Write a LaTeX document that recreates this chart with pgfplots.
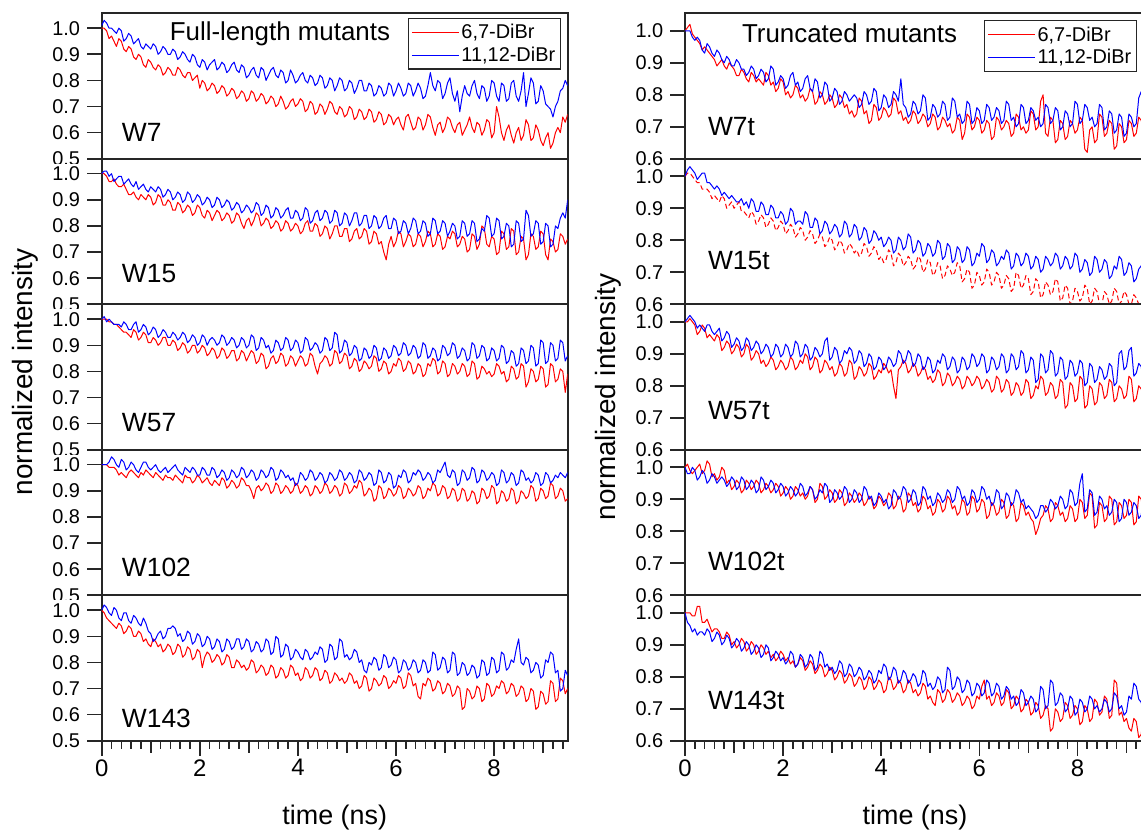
\documentclass[border=0pt]{standalone}
\usepackage{fontspec}
\setmainfont{Liberation Sans}
\usepackage{pgfplots}
\usepackage{pgfplotstable}
\pgfplotsset{compat=1.18}

% ---------------- data (time in ns, r = 6,7-DiBr, b = 11,12-DiBr)
\pgfplotstableread{
t r b
0.0 1.00 1.01
0.05 1.00 1.03
0.1 0.99 1.02
0.15 0.96 1.00
0.2 0.97 1.00
0.25 0.95 0.99
0.3 0.93 0.98
0.35 0.96 1.00
0.4 0.95 0.99
0.45 0.92 0.95
0.5 0.91 0.96
0.55 0.93 0.98
0.6 0.92 0.97
0.65 0.89 0.94
0.7 0.88 0.95
0.75 0.90 0.96
0.8 0.89 0.93
0.85 0.86 0.92
0.9 0.85 0.94
0.95 0.88 0.93
1.0 0.87 0.92
1.05 0.85 0.94
1.1 0.84 0.93
1.15 0.86 0.90
1.2 0.85 0.91
1.25 0.82 0.93
1.3 0.83 0.92
1.35 0.85 0.90
1.4 0.84 0.90
1.45 0.82 0.92
1.5 0.82 0.91
1.55 0.85 0.88
1.6 0.84 0.89
1.65 0.82 0.91
1.7 0.81 0.90
1.75 0.83 0.88
1.8 0.83 0.87
1.85 0.80 0.90
1.9 0.81 0.89
1.95 0.82 0.86
2.0 0.77 0.85
2.05 0.80 0.88
2.1 0.79 0.87
2.15 0.76 0.84
2.2 0.77 0.86
2.25 0.79 0.87
2.3 0.78 0.88
2.35 0.75 0.84
2.4 0.76 0.85
2.45 0.78 0.87
2.5 0.77 0.86
2.55 0.74 0.83
2.6 0.75 0.84
2.65 0.77 0.86
2.7 0.76 0.87
2.75 0.73 0.84
2.8 0.74 0.83
2.85 0.76 0.86
2.9 0.75 0.85
2.95 0.72 0.81
3.0 0.73 0.82
3.05 0.76 0.84
3.1 0.75 0.85
3.15 0.72 0.82
3.2 0.73 0.81
3.25 0.75 0.85
3.3 0.74 0.84
3.35 0.71 0.80
3.4 0.72 0.82
3.45 0.74 0.84
3.5 0.73 0.85
3.55 0.70 0.82
3.6 0.71 0.81
3.65 0.74 0.84
3.7 0.72 0.83
3.75 0.69 0.79
3.8 0.70 0.80
3.85 0.72 0.84
3.9 0.73 0.82
3.95 0.70 0.79
4.0 0.71 0.80
4.05 0.73 0.82
4.1 0.72 0.83
4.15 0.68 0.80
4.2 0.69 0.79
4.25 0.72 0.82
4.3 0.71 0.81
4.35 0.67 0.78
4.4 0.68 0.79
4.45 0.71 0.82
4.5 0.70 0.81
4.55 0.67 0.77
4.6 0.69 0.78
4.65 0.72 0.81
4.7 0.71 0.80
4.75 0.68 0.76
4.8 0.67 0.78
4.85 0.70 0.81
4.9 0.69 0.80
4.95 0.66 0.76
5.0 0.67 0.77
5.05 0.70 0.80
5.1 0.69 0.79
5.15 0.65 0.75
5.2 0.66 0.77
5.25 0.69 0.80
5.3 0.68 0.80
5.35 0.65 0.76
5.4 0.66 0.76
5.45 0.69 0.79
5.5 0.68 0.78
5.55 0.64 0.74
5.6 0.65 0.75
5.65 0.68 0.78
5.7 0.67 0.77
5.75 0.63 0.74
5.8 0.64 0.75
5.85 0.67 0.79
5.9 0.66 0.78
5.95 0.63 0.74
6.0 0.65 0.76
6.05 0.66 0.79
6.1 0.63 0.77
6.15 0.61 0.74
6.2 0.66 0.75
6.25 0.67 0.79
6.3 0.64 0.78
6.35 0.61 0.74
6.4 0.62 0.76
6.45 0.66 0.79
6.5 0.65 0.77
6.55 0.61 0.73
6.6 0.63 0.74
6.65 0.67 0.78
6.7 0.66 0.83
6.75 0.62 0.78
6.8 0.59 0.76
6.85 0.63 0.80
6.9 0.64 0.79
6.95 0.60 0.73
7.0 0.62 0.75
7.05 0.66 0.79
7.1 0.65 0.81
7.15 0.62 0.75
7.2 0.60 0.72
7.25 0.63 0.76
7.3 0.64 0.68
7.35 0.59 0.74
7.4 0.61 0.78
7.45 0.63 0.75
7.5 0.66 0.74
7.55 0.62 0.78
7.6 0.60 0.80
7.65 0.64 0.75
7.7 0.63 0.73
7.75 0.59 0.78
7.8 0.61 0.77
7.85 0.65 0.72
7.9 0.64 0.74
7.95 0.58 0.80
8.0 0.60 0.79
8.05 0.70 0.74
8.1 0.66 0.72
8.15 0.60 0.79
8.2 0.57 0.78
8.25 0.61 0.72
8.3 0.63 0.73
8.35 0.59 0.79
8.4 0.56 0.80
8.45 0.60 0.74
8.5 0.62 0.72
8.55 0.57 0.76
8.6 0.59 0.83
8.65 0.65 0.70
8.7 0.63 0.75
8.75 0.57 0.81
8.8 0.58 0.79
8.85 0.63 0.71
8.9 0.61 0.72
8.95 0.57 0.78
9.0 0.55 0.76
9.05 0.58 0.71
9.1 0.60 0.70
9.15 0.54 0.69
9.2 0.56 0.66
9.25 0.60 0.70
9.3 0.62 0.72
9.35 0.60 0.76
9.4 0.66 0.77
9.45 0.64 0.80
9.5 0.67 0.78
}\tWseven

\pgfplotstableread{
t r b
0.0 1.00 1.00
0.05 1.00 1.01
0.1 0.99 1.01
0.15 0.97 0.99
0.2 0.97 1.00
0.25 0.98 0.97
0.3 0.96 0.98
0.35 0.95 0.99
0.4 0.95 0.99
0.45 0.96 0.96
0.5 0.94 0.97
0.55 0.92 0.98
0.6 0.92 0.96
0.65 0.93 0.95
0.7 0.91 0.97
0.75 0.90 0.94
0.8 0.92 0.95
0.85 0.91 0.96
0.9 0.90 0.94
0.95 0.92 0.93
1.0 0.91 0.95
1.05 0.88 0.94
1.1 0.89 0.93
1.15 0.92 0.95
1.2 0.91 0.94
1.25 0.88 0.91
1.3 0.88 0.92
1.35 0.90 0.94
1.4 0.89 0.93
1.45 0.86 0.90
1.5 0.86 0.91
1.55 0.89 0.93
1.6 0.88 0.92
1.65 0.85 0.89
1.7 0.86 0.90
1.75 0.88 0.93
1.8 0.87 0.92
1.85 0.84 0.89
1.9 0.85 0.90
1.95 0.88 0.92
2.0 0.87 0.91
2.05 0.84 0.88
2.1 0.83 0.89
2.15 0.86 0.91
2.2 0.85 0.90
2.25 0.82 0.87
2.3 0.84 0.88
2.35 0.86 0.91
2.4 0.85 0.90
2.45 0.82 0.87
2.5 0.83 0.88
2.55 0.85 0.90
2.6 0.84 0.89
2.65 0.81 0.86
2.7 0.82 0.87
2.75 0.85 0.89
2.8 0.84 0.88
2.85 0.81 0.85
2.9 0.79 0.86
2.95 0.82 0.88
3.0 0.83 0.87
3.05 0.80 0.85
3.1 0.82 0.86
3.15 0.85 0.89
3.2 0.84 0.88
3.25 0.80 0.84
3.3 0.81 0.85
3.35 0.83 0.88
3.4 0.82 0.87
3.45 0.79 0.83
3.5 0.80 0.84
3.55 0.82 0.87
3.6 0.81 0.86
3.65 0.78 0.83
3.7 0.79 0.84
3.75 0.82 0.86
3.8 0.81 0.87
3.85 0.78 0.83
3.9 0.79 0.83
3.95 0.81 0.86
4.0 0.80 0.85
4.05 0.77 0.82
4.1 0.78 0.83
4.15 0.81 0.87
4.2 0.82 0.86
4.25 0.78 0.81
4.3 0.78 0.82
4.35 0.81 0.85
4.4 0.80 0.86
4.45 0.76 0.82
4.5 0.77 0.83
4.55 0.80 0.86
4.6 0.79 0.85
4.65 0.75 0.81
4.7 0.77 0.82
4.75 0.80 0.86
4.8 0.80 0.85
4.85 0.76 0.80
4.9 0.76 0.81
4.95 0.79 0.85
5.0 0.79 0.84
5.05 0.74 0.80
5.1 0.75 0.82
5.15 0.78 0.85
5.2 0.79 0.85
5.25 0.75 0.80
5.3 0.76 0.81
5.35 0.79 0.84
5.4 0.78 0.84
5.45 0.73 0.79
5.5 0.74 0.80
5.55 0.78 0.84
5.6 0.77 0.83
5.65 0.73 0.79
5.7 0.74 0.80
5.75 0.70 0.83
5.8 0.67 0.84
5.85 0.73 0.79
5.9 0.76 0.79
5.95 0.72 0.83
6.0 0.74 0.82
6.05 0.78 0.77
6.1 0.77 0.78
6.15 0.72 0.82
6.2 0.74 0.81
6.25 0.77 0.77
6.3 0.76 0.79
6.35 0.72 0.83
6.4 0.73 0.82
6.45 0.77 0.77
6.5 0.76 0.78
6.55 0.72 0.82
6.6 0.74 0.81
6.65 0.78 0.76
6.7 0.77 0.77
6.75 0.72 0.83
6.8 0.73 0.82
6.85 0.77 0.77
6.9 0.76 0.78
6.95 0.71 0.82
7.0 0.72 0.81
7.05 0.76 0.76
7.1 0.75 0.78
7.15 0.78 0.81
7.2 0.77 0.80
7.25 0.72 0.75
7.3 0.73 0.76
7.35 0.76 0.82
7.4 0.75 0.81
7.45 0.70 0.76
7.5 0.71 0.77
7.55 0.77 0.82
7.6 0.76 0.81
7.65 0.71 0.74
7.7 0.73 0.75
7.75 0.80 0.79
7.8 0.79 0.78
7.85 0.73 0.84
7.9 0.72 0.83
7.95 0.76 0.76
8.0 0.75 0.77
8.05 0.69 0.83
8.1 0.70 0.82
8.15 0.78 0.75
8.2 0.77 0.76
8.25 0.71 0.81
8.3 0.72 0.80
8.35 0.79 0.72
8.4 0.78 0.73
8.45 0.69 0.82
8.5 0.70 0.81
8.55 0.76 0.74
8.6 0.75 0.75
8.65 0.67 0.86
8.7 0.69 0.84
8.75 0.77 0.76
8.8 0.76 0.77
8.85 0.71 0.82
8.9 0.72 0.81
8.95 0.78 0.73
9.0 0.77 0.74
9.05 0.69 0.81
9.1 0.67 0.80
9.15 0.75 0.72
9.2 0.74 0.73
9.25 0.70 0.80
9.3 0.71 0.79
9.35 0.77 0.83
9.4 0.76 0.85
9.45 0.73 0.83
9.5 0.75 0.90
}\tWfifteen

\pgfplotstableread{
t r b
0.0 1.00 1.00
0.05 1.00 1.01
0.1 1.00 0.99
0.15 0.99 1.00
0.2 0.99 0.99
0.25 0.98 0.98
0.3 0.98 0.98
0.35 0.97 0.98
0.4 0.96 0.97
0.45 0.95 0.99
0.5 0.95 0.98
0.55 0.94 0.96
0.6 0.93 0.96
0.65 0.96 0.98
0.7 0.95 0.99
0.75 0.92 0.95
0.8 0.93 0.96
0.85 0.95 0.98
0.9 0.94 0.97
0.95 0.91 0.94
1.0 0.91 0.95
1.05 0.93 0.97
1.1 0.92 0.96
1.15 0.90 0.93
1.2 0.91 0.94
1.25 0.93 0.96
1.3 0.93 0.95
1.35 0.90 0.93
1.4 0.90 0.93
1.45 0.92 0.95
1.5 0.91 0.94
1.55 0.88 0.92
1.6 0.89 0.93
1.65 0.91 0.95
1.7 0.90 0.94
1.75 0.87 0.91
1.8 0.88 0.92
1.85 0.90 0.94
1.9 0.90 0.93
1.95 0.87 0.90
2.0 0.88 0.91
2.05 0.90 0.94
2.1 0.89 0.93
2.15 0.86 0.90
2.2 0.87 0.92
2.25 0.89 0.93
2.3 0.88 0.92
2.35 0.85 0.90
2.4 0.86 0.91
2.45 0.89 0.94
2.5 0.88 0.93
2.55 0.85 0.90
2.6 0.86 0.91
2.65 0.88 0.93
2.7 0.88 0.92
2.75 0.84 0.89
2.8 0.85 0.90
2.85 0.88 0.93
2.9 0.87 0.92
2.95 0.84 0.89
3.0 0.86 0.90
3.05 0.88 0.94
3.1 0.87 0.93
3.15 0.83 0.88
3.2 0.84 0.89
3.25 0.87 0.93
3.3 0.86 0.92
3.35 0.81 0.89
3.4 0.82 0.90
3.45 0.85 0.87
3.5 0.86 0.88
3.55 0.83 0.92
3.6 0.84 0.91
3.65 0.87 0.88
3.7 0.86 0.89
3.75 0.82 0.93
3.8 0.83 0.92
3.85 0.86 0.88
3.9 0.85 0.89
3.95 0.82 0.92
4.0 0.84 0.91
4.05 0.86 0.87
4.1 0.85 0.88
4.15 0.82 0.93
4.2 0.83 0.92
4.25 0.87 0.88
4.3 0.86 0.89
4.35 0.82 0.91
4.4 0.79 0.90
4.45 0.83 0.87
4.5 0.84 0.88
4.55 0.86 0.93
4.6 0.85 0.92
4.65 0.82 0.88
4.7 0.83 0.89
4.75 0.88 0.95
4.8 0.87 0.94
4.85 0.83 0.87
4.9 0.84 0.88
4.95 0.87 0.92
5.0 0.86 0.91
5.05 0.81 0.86
5.1 0.82 0.87
5.15 0.85 0.90
5.2 0.84 0.89
5.25 0.80 0.84
5.3 0.81 0.85
5.35 0.84 0.89
5.4 0.83 0.88
5.45 0.81 0.85
5.5 0.82 0.86
5.55 0.86 0.90
5.6 0.85 0.89
5.65 0.80 0.84
5.7 0.81 0.85
5.75 0.84 0.89
5.8 0.83 0.88
5.85 0.79 0.85
5.9 0.80 0.86
5.95 0.83 0.90
6.0 0.82 0.89
6.05 0.85 0.86
6.1 0.84 0.87
6.15 0.80 0.91
6.2 0.81 0.90
6.25 0.84 0.86
6.3 0.83 0.87
6.35 0.79 0.90
6.4 0.80 0.89
6.45 0.83 0.85
6.5 0.82 0.86
6.55 0.78 0.91
6.6 0.79 0.90
6.65 0.83 0.85
6.7 0.82 0.86
6.75 0.85 0.89
6.8 0.84 0.88
6.85 0.79 0.84
6.9 0.80 0.85
6.95 0.84 0.90
7.0 0.83 0.89
7.05 0.78 0.86
7.1 0.79 0.87
7.15 0.83 0.91
7.2 0.82 0.90
7.25 0.79 0.85
7.3 0.80 0.86
7.35 0.83 0.89
7.4 0.82 0.88
7.45 0.78 0.84
7.5 0.79 0.85
7.55 0.84 0.91
7.6 0.83 0.90
7.65 0.77 0.85
7.7 0.78 0.86
7.75 0.82 0.90
7.8 0.81 0.89
7.85 0.79 0.84
7.9 0.80 0.85
7.95 0.78 0.89
8.0 0.79 0.88
8.05 0.83 0.84
8.1 0.82 0.85
8.15 0.79 0.90
8.2 0.80 0.89
8.25 0.76 0.83
8.3 0.77 0.84
8.35 0.82 0.88
8.4 0.81 0.87
8.45 0.77 0.82
8.5 0.78 0.83
8.55 0.83 0.89
8.6 0.82 0.88
8.65 0.74 0.83
8.7 0.76 0.84
8.75 0.81 0.90
8.8 0.80 0.89
8.85 0.76 0.82
8.9 0.77 0.83
8.95 0.82 0.92
9.0 0.81 0.91
9.05 0.74 0.83
9.1 0.75 0.84
9.15 0.83 0.91
9.2 0.82 0.90
9.25 0.76 0.84
9.3 0.77 0.85
9.35 0.81 0.92
9.4 0.80 0.91
9.45 0.72 0.84
9.5 0.79 0.86
}\tWfiftyseven

\pgfplotstableread{
t r b
0.0 1.00 1.00
0.05 1.00 1.00
0.1 1.00 1.00
0.15 0.99 1.01
0.2 0.99 1.03
0.25 0.99 1.02
0.3 0.98 1.00
0.35 0.96 0.99
0.4 0.97 1.02
0.45 0.96 1.01
0.5 0.95 0.98
0.55 0.97 0.99
0.6 0.98 1.01
0.65 0.97 1.00
0.7 0.96 0.98
0.75 0.95 0.97
0.8 0.97 0.99
0.85 0.96 1.01
0.9 0.98 1.01
0.95 0.97 0.99
1.0 0.96 0.98
1.05 0.95 0.99
1.1 0.97 1.00
1.15 0.96 0.98
1.2 0.95 0.97
1.25 0.94 0.98
1.3 0.96 0.99
1.35 0.95 0.97
1.4 0.95 0.98
1.45 0.94 0.99
1.5 0.96 1.00
1.55 0.95 0.98
1.6 0.94 0.97
1.65 0.93 0.96
1.7 0.96 0.99
1.75 0.95 0.98
1.8 0.95 0.97
1.85 0.93 0.99
1.9 0.94 0.98
1.95 0.96 0.96
2.0 0.95 0.96
2.05 0.93 0.99
2.1 0.94 0.98
2.15 0.95 0.96
2.2 0.93 0.96
2.25 0.92 0.99
2.3 0.94 0.98
2.35 0.93 0.95
2.4 0.92 0.96
2.45 0.95 0.98
2.5 0.94 0.97
2.55 0.91 0.94
2.6 0.92 0.95
2.65 0.94 0.98
2.7 0.93 0.97
2.75 0.91 0.95
2.8 0.92 0.96
2.85 0.95 0.99
2.9 0.94 0.98
2.95 0.92 0.95
3.0 0.92 0.96
3.05 0.90 0.98
3.1 0.87 0.97
3.15 0.91 0.94
3.2 0.92 0.95
3.25 0.90 0.98
3.3 0.91 0.97
3.35 0.93 0.95
3.4 0.92 0.96
3.45 0.89 0.99
3.5 0.90 0.98
3.55 0.93 0.94
3.6 0.92 0.95
3.65 0.89 0.98
3.7 0.90 0.97
3.75 0.92 0.95
3.8 0.91 0.96
3.85 0.89 0.94
3.9 0.90 0.95
3.95 0.93 0.92
4.0 0.92 0.93
4.05 0.89 0.97
4.1 0.90 0.96
4.15 0.92 0.94
4.2 0.91 0.95
4.25 0.88 0.98
4.3 0.89 0.97
4.35 0.92 0.94
4.4 0.91 0.95
4.45 0.89 0.97
4.5 0.90 0.96
4.55 0.93 0.93
4.6 0.92 0.94
4.65 0.89 0.97
4.7 0.90 0.96
4.75 0.92 0.94
4.8 0.91 0.95
4.85 0.88 0.98
4.9 0.89 0.97
4.95 0.93 0.94
5.0 0.92 0.95
5.05 0.89 0.97
5.1 0.90 0.96
5.15 0.92 0.93
5.2 0.91 0.94
5.25 0.94 0.98
5.3 0.93 0.97
5.35 0.88 0.94
5.4 0.89 0.95
5.45 0.91 0.97
5.5 0.90 0.96
5.55 0.86 0.92
5.6 0.87 0.93
5.65 0.92 0.98
5.7 0.91 0.97
5.75 0.87 0.93
5.8 0.88 0.94
5.85 0.91 0.97
5.9 0.90 0.96
5.95 0.88 0.91
6.0 0.89 0.92
6.05 0.92 0.96
6.1 0.91 0.95
6.15 0.87 0.98
6.2 0.88 0.97
6.25 0.91 0.93
6.3 0.90 0.94
6.35 0.88 0.97
6.4 0.89 0.96
6.45 0.92 0.98
6.5 0.91 0.97
6.55 0.87 0.94
6.6 0.88 0.95
6.65 0.91 0.97
6.7 0.90 0.96
6.75 0.93 0.93
6.8 0.92 0.94
6.85 0.88 0.98
6.9 0.89 0.97
6.95 0.92 0.99
7.0 0.91 1.01
7.05 0.87 0.96
7.1 0.88 0.95
7.15 0.91 0.98
7.2 0.90 0.97
7.25 0.86 0.92
7.3 0.87 0.93
7.35 0.91 0.98
7.4 0.90 0.97
7.45 0.86 0.94
7.5 0.87 0.95
7.55 0.90 0.99
7.6 0.89 0.98
7.65 0.85 0.93
7.7 0.86 0.94
7.75 0.91 0.98
7.8 0.90 0.97
7.85 0.87 0.94
7.9 0.88 0.95
7.95 0.92 0.97
8.0 0.91 0.96
8.05 0.85 0.92
8.1 0.86 0.93
8.15 0.90 0.98
8.2 0.89 0.97
8.25 0.86 0.93
8.3 0.87 0.94
8.35 0.91 0.97
8.4 0.90 0.96
8.45 0.85 0.92
8.5 0.86 0.93
8.55 0.90 0.98
8.6 0.89 0.97
8.65 0.87 0.94
8.7 0.88 0.95
8.75 0.92 0.93
8.8 0.91 0.94
8.85 0.86 0.97
8.9 0.87 0.96
8.95 0.91 0.92
9.0 0.90 0.93
9.05 0.87 0.97
9.1 0.88 0.96
9.15 0.93 0.93
9.2 0.92 0.94
9.25 0.87 0.96
9.3 0.88 0.95
9.35 0.91 0.97
9.4 0.90 0.96
9.45 0.86 0.95
9.5 0.87 0.97
}\tWonezerotwo

\pgfplotstableread{
t r b
0.0 1.00 1.00
0.05 0.99 1.02
0.1 0.97 1.01
0.15 0.96 0.99
0.2 0.95 0.98
0.25 0.94 1.01
0.3 0.93 1.00
0.35 0.95 0.97
0.4 0.94 0.96
0.45 0.91 0.99
0.5 0.92 0.99
0.55 0.94 0.96
0.6 0.93 0.95
0.65 0.90 0.98
0.7 0.90 0.97
0.75 0.92 0.95
0.8 0.91 0.94
0.85 0.88 0.97
0.9 0.89 0.95
0.95 0.87 0.92
1.0 0.86 0.91
1.05 0.89 0.88
1.1 0.88 0.89
1.15 0.86 0.91
1.2 0.87 0.92
1.25 0.84 0.89
1.3 0.85 0.90
1.35 0.87 0.93
1.4 0.86 0.93
1.45 0.83 0.94
1.5 0.84 0.93
1.55 0.87 0.90
1.6 0.86 0.91
1.65 0.82 0.88
1.7 0.83 0.89
1.75 0.86 0.92
1.8 0.85 0.91
1.85 0.81 0.87
1.9 0.82 0.88
1.95 0.85 0.91
2.0 0.84 0.90
2.05 0.78 0.86
2.1 0.82 0.87
2.15 0.84 0.90
2.2 0.83 0.89
2.25 0.80 0.85
2.3 0.81 0.86
2.35 0.83 0.89
2.4 0.82 0.88
2.45 0.79 0.84
2.5 0.80 0.85
2.55 0.83 0.89
2.6 0.82 0.88
2.65 0.78 0.85
2.7 0.78 0.86
2.75 0.81 0.89
2.8 0.80 0.89
2.85 0.78 0.85
2.9 0.79 0.86
2.95 0.77 0.89
3.0 0.78 0.88
3.05 0.81 0.84
3.1 0.80 0.85
3.15 0.76 0.88
3.2 0.77 0.87
3.25 0.79 0.84
3.3 0.78 0.85
3.35 0.75 0.89
3.4 0.76 0.88
3.45 0.79 0.83
3.5 0.78 0.84
3.55 0.74 0.90
3.6 0.75 0.89
3.65 0.78 0.82
3.7 0.77 0.83
3.75 0.74 0.87
3.8 0.75 0.86
3.85 0.79 0.81
3.9 0.78 0.82
3.95 0.75 0.85
4.0 0.76 0.84
4.05 0.73 0.82
4.1 0.74 0.81
4.15 0.78 0.85
4.2 0.77 0.84
4.25 0.74 0.81
4.3 0.75 0.82
4.35 0.78 0.84
4.4 0.77 0.83
4.45 0.73 0.86
4.5 0.74 0.85
4.55 0.77 0.80
4.6 0.76 0.81
4.65 0.72 0.87
4.7 0.73 0.86
4.75 0.76 0.81
4.8 0.75 0.82
4.85 0.73 0.89
4.9 0.74 0.88
4.95 0.72 0.82
5.0 0.73 0.83
5.05 0.76 0.81
5.1 0.75 0.82
5.15 0.72 0.85
5.2 0.73 0.84
5.25 0.70 0.80
5.3 0.71 0.81
5.35 0.75 0.77
5.4 0.74 0.76
5.45 0.69 0.80
5.5 0.70 0.79
5.55 0.74 0.82
5.6 0.73 0.81
5.65 0.71 0.77
5.7 0.72 0.78
5.75 0.75 0.83
5.8 0.74 0.82
5.85 0.70 0.78
5.9 0.71 0.79
5.95 0.73 0.82
6.0 0.72 0.81
6.05 0.75 0.76
6.1 0.74 0.77
6.15 0.70 0.81
6.2 0.71 0.80
6.25 0.76 0.77
6.3 0.75 0.78
6.35 0.71 0.81
6.4 0.72 0.80
6.45 0.67 0.76
6.5 0.66 0.77
6.55 0.72 0.81
6.6 0.71 0.80
6.65 0.74 0.76
6.7 0.73 0.77
6.75 0.69 0.84
6.8 0.70 0.83
6.85 0.73 0.77
6.9 0.72 0.78
6.95 0.68 0.82
7.0 0.69 0.81
7.05 0.72 0.76
7.1 0.71 0.77
7.15 0.67 0.84
7.2 0.68 0.83
7.25 0.71 0.75
7.3 0.70 0.76
7.35 0.62 0.80
7.4 0.63 0.79
7.45 0.70 0.75
7.5 0.69 0.76
7.55 0.66 0.79
7.6 0.67 0.78
7.65 0.71 0.74
7.7 0.70 0.75
7.75 0.65 0.81
7.8 0.66 0.80
7.85 0.72 0.75
7.9 0.71 0.76
7.95 0.67 0.82
8.0 0.68 0.81
8.05 0.71 0.76
8.1 0.70 0.77
8.15 0.73 0.84
8.2 0.72 0.83
8.25 0.68 0.77
8.3 0.69 0.78
8.35 0.72 0.81
8.4 0.71 0.80
8.45 0.67 0.85
8.5 0.68 0.89
8.55 0.71 0.80
8.6 0.70 0.79
8.65 0.65 0.82
8.7 0.66 0.81
8.75 0.70 0.76
8.8 0.69 0.77
8.85 0.62 0.80
8.9 0.63 0.79
8.95 0.69 0.74
9.0 0.68 0.75
9.05 0.64 0.81
9.1 0.65 0.80
9.15 0.73 0.84
9.2 0.72 0.83
9.25 0.65 0.76
9.3 0.66 0.77
9.35 0.74 0.69
9.4 0.73 0.70
9.45 0.68 0.77
9.5 0.70 0.75
}\tWonefourthree

\pgfplotstableread{
t r b
0.0 1.00 1.00
0.05 1.01 1.00
0.1 1.02 1.00
0.15 0.99 0.98
0.2 0.98 0.97
0.25 0.97 0.98
0.3 0.96 0.97
0.35 0.94 0.94
0.4 0.95 0.93
0.45 0.94 0.96
0.5 0.93 0.95
0.55 0.92 0.93
0.6 0.91 0.92
0.65 0.89 0.94
0.7 0.90 0.93
0.75 0.91 0.91
0.8 0.89 0.90
0.85 0.88 0.92
0.9 0.90 0.91
0.95 0.89 0.89
1.0 0.88 0.89
1.05 0.86 0.91
1.1 0.86 0.90
1.15 0.88 0.88
1.2 0.87 0.88
1.25 0.85 0.86
1.3 0.84 0.87
1.35 0.87 0.89
1.4 0.86 0.88
1.45 0.84 0.85
1.5 0.85 0.86
1.55 0.84 0.88
1.6 0.83 0.87
1.65 0.87 0.84
1.7 0.86 0.85
1.75 0.83 0.89
1.8 0.84 0.88
1.85 0.81 0.83
1.9 0.82 0.84
1.95 0.85 0.86
2.0 0.84 0.85
2.05 0.80 0.82
2.1 0.81 0.83
2.15 0.79 0.86
2.2 0.80 0.87
2.25 0.83 0.83
2.3 0.82 0.84
2.35 0.79 0.81
2.4 0.80 0.82
2.45 0.78 0.85
2.5 0.79 0.86
2.55 0.82 0.82
2.6 0.81 0.81
2.65 0.77 0.85
2.7 0.78 0.84
2.75 0.81 0.79
2.8 0.80 0.80
2.85 0.77 0.84
2.9 0.78 0.83
2.95 0.80 0.78
3.0 0.79 0.79
3.05 0.76 0.82
3.1 0.77 0.81
3.15 0.80 0.77
3.2 0.79 0.78
3.25 0.76 0.81
3.3 0.77 0.80
3.35 0.74 0.78
3.4 0.75 0.79
3.45 0.73 0.80
3.5 0.74 0.79
3.55 0.79 0.76
3.6 0.78 0.77
3.65 0.74 0.81
3.7 0.75 0.80
3.75 0.71 0.77
3.8 0.72 0.78
3.85 0.77 0.82
3.9 0.76 0.81
3.95 0.72 0.75
4.0 0.73 0.76
4.05 0.76 0.80
4.1 0.75 0.79
4.15 0.73 0.76
4.2 0.74 0.77
4.25 0.79 0.81
4.3 0.78 0.80
4.35 0.74 0.78
4.4 0.75 0.85
4.45 0.72 0.77
4.5 0.73 0.76
4.55 0.71 0.73
4.6 0.72 0.74
4.65 0.75 0.78
4.7 0.74 0.77
4.75 0.71 0.74
4.8 0.72 0.75
4.85 0.74 0.80
4.9 0.73 0.79
4.95 0.70 0.72
5.0 0.71 0.73
5.05 0.74 0.77
5.1 0.73 0.76
5.15 0.69 0.73
5.2 0.70 0.74
5.25 0.73 0.78
5.3 0.72 0.77
5.35 0.70 0.72
5.4 0.71 0.73
5.45 0.68 0.79
5.5 0.69 0.78
5.55 0.73 0.73
5.6 0.72 0.74
5.65 0.66 0.71
5.7 0.68 0.72
5.75 0.74 0.78
5.8 0.73 0.77
5.85 0.69 0.71
5.9 0.70 0.72
5.95 0.73 0.76
6.0 0.72 0.75
6.05 0.68 0.71
6.1 0.69 0.72
6.15 0.72 0.77
6.2 0.71 0.76
6.25 0.66 0.72
6.3 0.67 0.73
6.35 0.73 0.76
6.4 0.72 0.75
6.45 0.69 0.71
6.5 0.70 0.72
6.55 0.72 0.78
6.6 0.71 0.77
6.65 0.67 0.72
6.7 0.68 0.73
6.75 0.74 0.70
6.8 0.73 0.71
6.85 0.69 0.77
6.9 0.70 0.76
6.95 0.68 0.71
7.0 0.69 0.72
7.05 0.75 0.76
7.1 0.74 0.75
7.15 0.69 0.72
7.2 0.70 0.73
7.25 0.78 0.70
7.3 0.80 0.71
7.35 0.68 0.77
7.4 0.67 0.76
7.45 0.73 0.71
7.5 0.72 0.72
7.55 0.65 0.76
7.6 0.66 0.75
7.65 0.72 0.69
7.7 0.71 0.70
7.75 0.66 0.75
7.8 0.67 0.74
7.85 0.72 0.70
7.9 0.71 0.71
7.95 0.68 0.78
8.0 0.69 0.77
8.05 0.73 0.71
8.1 0.72 0.72
8.15 0.63 0.77
8.2 0.62 0.76
8.25 0.69 0.72
8.3 0.70 0.73
8.35 0.65 0.70
8.4 0.66 0.71
8.45 0.74 0.77
8.5 0.73 0.76
8.55 0.67 0.69
8.6 0.68 0.70
8.65 0.72 0.75
8.7 0.71 0.74
8.75 0.63 0.68
8.8 0.64 0.69
8.85 0.71 0.74
8.9 0.70 0.73
8.95 0.65 0.67
9.0 0.66 0.68
9.05 0.72 0.74
9.1 0.71 0.73
9.15 0.67 0.70
9.2 0.68 0.71
9.25 0.73 0.79
9.3 0.72 0.81
9.35 0.69 0.74
9.4 0.70 0.75
9.45 0.74 0.80
9.5 0.73 0.78
}\tWsevenT

\pgfplotstableread{
t r b
0.0 1.00 1.00
0.05 1.01 1.02
0.1 1.01 1.03
0.15 1.00 1.02
0.2 0.99 1.01
0.25 0.98 0.99
0.3 0.98 1.00
0.35 0.96 1.01
0.4 0.96 1.01
0.45 0.96 0.98
0.5 0.95 0.98
0.55 0.93 0.97
0.6 0.94 0.96
0.65 0.93 0.97
0.7 0.92 0.96
0.75 0.94 0.94
0.8 0.93 0.95
0.85 0.90 0.94
0.9 0.91 0.93
0.95 0.92 0.94
1.0 0.90 0.93
1.05 0.91 0.92
1.1 0.92 0.92
1.15 0.89 0.93
1.2 0.89 0.91
1.25 0.88 0.92
1.3 0.87 0.90
1.35 0.89 0.93
1.4 0.88 0.92
1.45 0.85 0.89
1.5 0.86 0.89
1.55 0.88 0.92
1.6 0.87 0.91
1.65 0.84 0.88
1.7 0.85 0.88
1.75 0.87 0.91
1.8 0.86 0.90
1.85 0.83 0.87
1.9 0.84 0.87
1.95 0.86 0.89
2.0 0.85 0.88
2.05 0.82 0.85
2.1 0.83 0.86
2.15 0.85 0.90
2.2 0.84 0.89
2.25 0.81 0.85
2.3 0.82 0.86
2.35 0.84 0.86
2.4 0.83 0.85
2.45 0.80 0.89
2.5 0.81 0.88
2.55 0.83 0.84
2.6 0.82 0.84
2.65 0.79 0.87
2.7 0.80 0.86
2.75 0.82 0.82
2.8 0.81 0.83
2.85 0.78 0.86
2.9 0.79 0.85
2.95 0.81 0.82
3.0 0.80 0.83
3.05 0.77 0.85
3.1 0.78 0.84
3.15 0.80 0.81
3.2 0.79 0.82
3.25 0.76 0.86
3.3 0.77 0.85
3.35 0.79 0.81
3.4 0.78 0.82
3.45 0.76 0.85
3.5 0.77 0.84
3.55 0.75 0.80
3.6 0.76 0.81
3.65 0.79 0.84
3.7 0.78 0.83
3.75 0.75 0.79
3.8 0.76 0.80
3.85 0.78 0.83
3.9 0.77 0.82
3.95 0.74 0.80
4.0 0.75 0.81
4.05 0.73 0.78
4.1 0.74 0.79
4.15 0.77 0.81
4.2 0.76 0.80
4.25 0.72 0.76
4.3 0.73 0.77
4.35 0.76 0.81
4.4 0.75 0.80
4.45 0.72 0.77
4.5 0.73 0.78
4.55 0.75 0.82
4.6 0.74 0.81
4.65 0.71 0.76
4.7 0.72 0.77
4.75 0.75 0.80
4.8 0.74 0.79
4.85 0.70 0.75
4.9 0.71 0.76
4.95 0.74 0.79
5.0 0.73 0.78
5.05 0.69 0.75
5.1 0.70 0.76
5.15 0.73 0.80
5.2 0.72 0.79
5.25 0.68 0.74
5.3 0.69 0.75
5.35 0.72 0.79
5.4 0.71 0.78
5.45 0.69 0.73
5.5 0.70 0.74
5.55 0.73 0.78
5.6 0.72 0.77
5.65 0.67 0.73
5.7 0.68 0.74
5.75 0.71 0.78
5.8 0.70 0.77
5.85 0.65 0.72
5.9 0.66 0.73
5.95 0.70 0.76
6.0 0.69 0.75
6.05 0.66 0.79
6.1 0.67 0.78
6.15 0.71 0.73
6.2 0.70 0.74
6.25 0.66 0.77
6.3 0.67 0.76
6.35 0.70 0.72
6.4 0.69 0.73
6.45 0.65 0.75
6.5 0.66 0.74
6.55 0.69 0.77
6.6 0.68 0.76
6.65 0.64 0.71
6.7 0.65 0.72
6.75 0.70 0.76
6.8 0.69 0.75
6.85 0.65 0.72
6.9 0.66 0.73
6.95 0.69 0.76
7.0 0.68 0.75
7.05 0.63 0.71
7.1 0.64 0.72
7.15 0.68 0.75
7.2 0.67 0.74
7.25 0.62 0.70
7.3 0.63 0.71
7.35 0.67 0.75
7.4 0.66 0.74
7.45 0.63 0.72
7.5 0.64 0.73
7.55 0.68 0.76
7.6 0.67 0.75
7.65 0.61 0.71
7.7 0.62 0.72
7.75 0.66 0.75
7.8 0.65 0.74
7.85 0.60 0.71
7.9 0.61 0.72
7.95 0.65 0.76
8.0 0.64 0.75
8.05 0.61 0.70
8.1 0.62 0.71
8.15 0.66 0.74
8.2 0.65 0.73
8.25 0.60 0.69
8.3 0.61 0.70
8.35 0.65 0.75
8.4 0.64 0.74
8.45 0.60 0.70
8.5 0.60 0.71
8.55 0.64 0.74
8.6 0.63 0.73
8.65 0.60 0.68
8.7 0.61 0.69
8.75 0.65 0.72
8.8 0.64 0.71
8.85 0.60 0.75
8.9 0.61 0.74
8.95 0.64 0.69
9.0 0.63 0.70
9.05 0.60 0.73
9.1 0.60 0.72
9.15 0.63 0.67
9.2 0.62 0.68
9.25 0.60 0.71
9.3 0.60 0.72
9.35 0.62 0.74
9.4 0.61 0.73
9.45 0.60 0.72
9.5 0.60 0.74
}\tWfifteenT

\pgfplotstableread{
t r b
0.0 1.00 1.00
0.05 1.00 1.01
0.1 1.01 1.02
0.15 1.00 1.01
0.2 0.99 1.00
0.25 0.96 0.98
0.3 0.97 0.99
0.35 0.99 0.98
0.4 0.98 0.97
0.45 0.95 0.99
0.5 0.96 0.99
0.55 0.95 0.97
0.6 0.94 0.96
0.65 0.96 0.97
0.7 0.95 0.98
0.75 0.91 0.94
0.8 0.92 0.95
0.85 0.94 0.97
0.9 0.93 0.96
0.95 0.90 0.92
1.0 0.91 0.93
1.05 0.93 0.95
1.1 0.92 0.94
1.15 0.89 0.91
1.2 0.90 0.92
1.25 0.93 0.95
1.3 0.92 0.94
1.35 0.88 0.91
1.4 0.89 0.92
1.45 0.91 0.94
1.5 0.90 0.93
1.55 0.87 0.90
1.6 0.88 0.91
1.65 0.86 0.93
1.7 0.87 0.92
1.75 0.89 0.89
1.8 0.88 0.90
1.85 0.85 0.93
1.9 0.86 0.92
1.95 0.88 0.89
2.0 0.87 0.90
2.05 0.85 0.93
2.1 0.86 0.92
2.15 0.89 0.89
2.2 0.88 0.90
2.25 0.85 0.94
2.3 0.86 0.93
2.35 0.88 0.89
2.4 0.87 0.90
2.45 0.90 0.93
2.5 0.89 0.92
2.55 0.85 0.88
2.6 0.86 0.89
2.65 0.89 0.92
2.7 0.88 0.91
2.75 0.84 0.89
2.8 0.85 0.90
2.85 0.88 0.94
2.9 0.87 0.95
2.95 0.85 0.88
3.0 0.86 0.89
3.05 0.83 0.92
3.1 0.84 0.91
3.15 0.87 0.87
3.2 0.86 0.88
3.25 0.83 0.91
3.3 0.84 0.90
3.35 0.88 0.92
3.4 0.87 0.91
3.45 0.82 0.87
3.5 0.83 0.88
3.55 0.86 0.91
3.6 0.85 0.90
3.65 0.83 0.86
3.7 0.84 0.87
3.75 0.87 0.90
3.8 0.86 0.89
3.85 0.82 0.85
3.9 0.83 0.86
3.95 0.85 0.89
4.0 0.84 0.88
4.05 0.87 0.85
4.1 0.86 0.86
4.15 0.84 0.89
4.2 0.85 0.88
4.25 0.80 0.86
4.3 0.76 0.87
4.35 0.85 0.91
4.4 0.86 0.90
4.45 0.88 0.87
4.5 0.87 0.88
4.55 0.84 0.91
4.6 0.85 0.90
4.65 0.87 0.86
4.7 0.86 0.87
4.75 0.83 0.90
4.8 0.84 0.89
4.85 0.86 0.85
4.9 0.85 0.86
4.95 0.82 0.89
5.0 0.83 0.88
5.05 0.81 0.84
5.1 0.82 0.85
5.15 0.85 0.88
5.2 0.84 0.87
5.25 0.80 0.90
5.3 0.81 0.89
5.35 0.84 0.85
5.4 0.83 0.86
5.45 0.80 0.89
5.5 0.81 0.88
5.55 0.83 0.84
5.6 0.82 0.85
5.65 0.79 0.89
5.7 0.80 0.88
5.75 0.83 0.85
5.8 0.82 0.86
5.85 0.80 0.90
5.9 0.81 0.89
5.95 0.83 0.86
6.0 0.82 0.87
6.05 0.79 0.90
6.1 0.80 0.89
6.15 0.82 0.84
6.2 0.81 0.85
6.25 0.78 0.89
6.3 0.79 0.88
6.35 0.83 0.85
6.4 0.82 0.86
6.45 0.78 0.90
6.5 0.79 0.89
6.55 0.82 0.84
6.6 0.81 0.85
6.65 0.77 0.90
6.7 0.78 0.89
6.75 0.81 0.85
6.8 0.80 0.86
6.85 0.77 0.91
6.9 0.78 0.90
6.95 0.82 0.84
7.0 0.81 0.85
7.05 0.76 0.89
7.1 0.77 0.88
7.15 0.80 0.81
7.2 0.79 0.82
7.25 0.83 0.90
7.3 0.82 0.89
7.35 0.77 0.84
7.4 0.78 0.85
7.45 0.81 0.91
7.5 0.80 0.90
7.55 0.76 0.83
7.6 0.77 0.84
7.65 0.82 0.89
7.7 0.81 0.88
7.75 0.73 0.82
7.8 0.74 0.83
7.85 0.81 0.88
7.9 0.80 0.87
7.95 0.75 0.83
8.0 0.76 0.84
8.05 0.83 0.88
8.1 0.82 0.87
8.15 0.73 0.80
8.2 0.74 0.81
8.25 0.80 0.87
8.3 0.79 0.86
8.35 0.74 0.81
8.4 0.75 0.82
8.45 0.81 0.86
8.5 0.80 0.85
8.55 0.76 0.82
8.6 0.77 0.83
8.65 0.82 0.87
8.7 0.81 0.86
8.75 0.75 0.80
8.8 0.76 0.81
8.85 0.80 0.90
8.9 0.79 0.91
8.95 0.76 0.85
9.0 0.77 0.86
9.05 0.83 0.91
9.1 0.82 0.92
9.15 0.75 0.83
9.2 0.76 0.84
9.25 0.80 0.87
9.3 0.79 0.86
9.35 0.76 0.81
9.4 0.77 0.82
9.45 0.79 0.85
9.5 0.78 0.84
}\tWfiftysevenT

\pgfplotstableread{
t r b
0.0 1.00 1.00
0.05 1.01 0.98
0.1 0.99 0.98
0.15 0.98 1.00
0.2 0.99 0.99
0.25 1.00 0.96
0.3 1.01 0.97
0.35 0.98 0.99
0.4 0.99 0.98
0.45 1.02 0.95
0.5 1.01 0.96
0.55 0.97 0.98
0.6 0.98 0.97
0.65 0.96 0.95
0.7 0.97 0.96
0.75 1.00 0.97
0.8 0.99 0.96
0.85 0.95 0.94
0.9 0.96 0.95
0.95 0.93 0.97
1.0 0.94 0.96
1.05 0.96 0.93
1.1 0.95 0.94
1.15 0.92 0.97
1.2 0.93 0.96
1.25 0.96 0.93
1.3 0.95 0.94
1.35 0.93 0.96
1.4 0.94 0.95
1.45 0.96 0.92
1.5 0.95 0.93
1.55 0.92 0.97
1.6 0.93 0.96
1.65 0.95 0.93
1.7 0.94 0.94
1.75 0.92 0.96
1.8 0.93 0.95
1.85 0.95 0.92
1.9 0.94 0.93
1.95 0.91 0.95
2.0 0.92 0.94
2.05 0.94 0.91
2.1 0.93 0.92
2.15 0.90 0.94
2.2 0.91 0.93
2.25 0.94 0.91
2.3 0.93 0.92
2.35 0.91 0.95
2.4 0.92 0.94
2.45 0.90 0.91
2.5 0.91 0.92
2.55 0.94 0.94
2.6 0.93 0.93
2.65 0.89 0.90
2.7 0.90 0.91
2.75 0.95 0.93
2.8 0.94 0.92
2.85 0.90 0.95
2.9 0.91 0.94
2.95 0.93 0.89
3.0 0.92 0.90
3.05 0.89 0.93
3.1 0.90 0.92
3.15 0.93 0.90
3.2 0.92 0.91
3.25 0.88 0.94
3.3 0.89 0.93
3.35 0.92 0.89
3.4 0.91 0.90
3.45 0.89 0.93
3.5 0.90 0.92
3.55 0.92 0.89
3.6 0.91 0.90
3.65 0.88 0.94
3.7 0.89 0.93
3.75 0.91 0.90
3.8 0.90 0.91
3.85 0.87 0.88
3.9 0.88 0.89
3.95 0.91 0.92
4.0 0.90 0.91
4.05 0.88 0.89
4.1 0.89 0.90
4.15 0.92 0.87
4.2 0.91 0.88
4.25 0.87 0.93
4.3 0.88 0.92
4.35 0.91 0.90
4.4 0.90 0.91
4.45 0.86 0.94
4.5 0.87 0.93
4.55 0.92 0.89
4.6 0.91 0.90
4.65 0.88 0.93
4.7 0.89 0.92
4.75 0.86 0.88
4.8 0.87 0.89
4.85 0.91 0.94
4.9 0.90 0.93
4.95 0.87 0.90
5.0 0.88 0.91
5.05 0.85 0.88
5.1 0.86 0.89
5.15 0.90 0.92
5.2 0.89 0.91
5.25 0.86 0.89
5.3 0.87 0.90
5.35 0.91 0.93
5.4 0.90 0.92
5.45 0.87 0.89
5.5 0.88 0.90
5.55 0.85 0.94
5.6 0.86 0.93
5.65 0.90 0.90
5.7 0.89 0.91
5.75 0.85 0.88
5.8 0.86 0.89
5.85 0.91 0.93
5.9 0.90 0.92
5.95 0.86 0.89
6.0 0.87 0.90
6.05 0.90 0.94
6.1 0.89 0.93
6.15 0.84 0.90
6.2 0.85 0.91
6.25 0.89 0.88
6.3 0.88 0.89
6.35 0.85 0.93
6.4 0.86 0.92
6.45 0.90 0.87
6.5 0.89 0.88
6.55 0.84 0.92
6.6 0.85 0.91
6.65 0.89 0.88
6.7 0.88 0.89
6.75 0.83 0.93
6.8 0.84 0.92
6.85 0.89 0.89
6.9 0.88 0.90
6.95 0.85 0.87
7.0 0.86 0.88
7.05 0.84 0.87
7.1 0.83 0.86
7.15 0.79 0.84
7.2 0.81 0.85
7.25 0.84 0.88
7.3 0.85 0.88
7.35 0.88 0.86
7.4 0.87 0.87
7.45 0.83 0.90
7.5 0.84 0.89
7.55 0.89 0.87
7.6 0.88 0.88
7.65 0.85 0.91
7.7 0.86 0.90
7.75 0.83 0.87
7.8 0.84 0.88
7.85 0.88 0.93
7.9 0.87 0.92
7.95 0.83 0.88
8.0 0.84 0.89
8.05 0.90 0.95
8.1 0.89 0.98
8.15 0.84 0.86
8.2 0.85 0.87
8.25 0.92 0.93
8.3 0.91 0.92
8.35 0.81 0.85
8.4 0.82 0.86
8.45 0.89 0.91
8.5 0.88 0.90
8.55 0.83 0.87
8.6 0.84 0.88
8.65 0.91 0.85
8.7 0.90 0.86
8.75 0.82 0.90
8.8 0.83 0.89
8.85 0.89 0.83
8.9 0.88 0.84
8.95 0.84 0.90
9.0 0.85 0.89
9.05 0.90 0.85
9.1 0.89 0.86
9.15 0.82 0.89
9.2 0.83 0.88
9.25 0.91 0.84
9.3 0.90 0.85
9.35 0.85 0.91
9.4 0.86 0.90
9.45 0.89 0.86
9.5 0.88 0.87
}\tWonezerotwoT

\pgfplotstableread{
t r b
0.0 1.00 1.00
0.05 1.00 0.97
0.1 1.00 0.96
0.15 0.99 0.94
0.2 0.99 0.95
0.25 1.02 0.93
0.3 1.02 0.94
0.35 0.97 0.94
0.4 0.97 0.93
0.45 0.98 0.95
0.5 0.96 0.94
0.55 0.94 0.91
0.6 0.95 0.92
0.65 0.95 0.94
0.7 0.94 0.93
0.75 0.92 0.90
0.8 0.92 0.91
0.85 0.94 0.93
0.9 0.93 0.92
0.95 0.90 0.89
1.0 0.91 0.90
1.05 0.89 0.92
1.1 0.90 0.91
1.15 0.92 0.88
1.2 0.91 0.89
1.25 0.88 0.91
1.3 0.89 0.90
1.35 0.91 0.87
1.4 0.90 0.88
1.45 0.87 0.90
1.5 0.88 0.89
1.55 0.90 0.86
1.6 0.89 0.87
1.65 0.87 0.90
1.7 0.88 0.89
1.75 0.86 0.85
1.8 0.87 0.86
1.85 0.85 0.88
1.9 0.86 0.87
1.95 0.88 0.85
2.0 0.87 0.86
2.05 0.85 0.84
2.1 0.86 0.85
2.15 0.84 0.88
2.2 0.85 0.87
2.25 0.83 0.83
2.3 0.84 0.84
2.35 0.86 0.87
2.4 0.85 0.86
2.45 0.82 0.83
2.5 0.83 0.84
2.55 0.85 0.87
2.6 0.84 0.86
2.65 0.81 0.82
2.7 0.82 0.83
2.75 0.84 0.88
2.8 0.83 0.87
2.85 0.80 0.83
2.9 0.81 0.84
2.95 0.83 0.82
3.0 0.82 0.83
3.05 0.79 0.81
3.1 0.80 0.82
3.15 0.82 0.85
3.2 0.81 0.84
3.25 0.78 0.80
3.3 0.79 0.81
3.35 0.81 0.84
3.4 0.80 0.83
3.45 0.77 0.80
3.5 0.78 0.81
3.55 0.80 0.83
3.6 0.79 0.82
3.65 0.76 0.79
3.7 0.77 0.80
3.75 0.80 0.82
3.8 0.79 0.81
3.85 0.76 0.78
3.9 0.77 0.79
3.95 0.79 0.82
4.0 0.78 0.81
4.05 0.75 0.84
4.1 0.76 0.83
4.15 0.80 0.79
4.2 0.79 0.80
4.25 0.76 0.83
4.3 0.77 0.82
4.35 0.79 0.78
4.4 0.78 0.79
4.45 0.75 0.82
4.5 0.76 0.81
4.55 0.79 0.78
4.6 0.78 0.79
4.65 0.75 0.81
4.7 0.76 0.80
4.75 0.74 0.77
4.8 0.75 0.78
4.85 0.78 0.82
4.9 0.77 0.81
4.95 0.73 0.77
5.0 0.74 0.78
5.05 0.72 0.76
5.1 0.71 0.77
5.15 0.76 0.80
5.2 0.75 0.79
5.25 0.72 0.75
5.3 0.73 0.76
5.35 0.76 0.83
5.4 0.75 0.82
5.45 0.72 0.76
5.5 0.73 0.77
5.55 0.75 0.80
5.6 0.74 0.79
5.65 0.71 0.75
5.7 0.72 0.76
5.75 0.74 0.79
5.8 0.73 0.78
5.85 0.70 0.74
5.9 0.71 0.75
5.95 0.74 0.78
6.0 0.73 0.77
6.05 0.77 0.74
6.1 0.79 0.75
6.15 0.73 0.79
6.2 0.74 0.78
6.25 0.71 0.74
6.3 0.72 0.75
6.35 0.75 0.78
6.4 0.74 0.77
6.45 0.71 0.73
6.5 0.72 0.74
6.55 0.76 0.77
6.6 0.75 0.76
6.65 0.70 0.73
6.7 0.71 0.74
6.75 0.74 0.71
6.8 0.73 0.72
6.85 0.69 0.76
6.9 0.70 0.75
6.95 0.73 0.71
7.0 0.72 0.72
7.05 0.68 0.74
7.1 0.69 0.73
7.15 0.72 0.69
7.2 0.71 0.70
7.25 0.67 0.77
7.3 0.68 0.76
7.35 0.71 0.70
7.4 0.70 0.71
7.45 0.63 0.79
7.5 0.64 0.78
7.55 0.70 0.71
7.6 0.69 0.72
7.65 0.66 0.75
7.7 0.67 0.74
7.75 0.72 0.69
7.8 0.71 0.70
7.85 0.67 0.74
7.9 0.68 0.73
7.95 0.71 0.68
8.0 0.70 0.69
8.05 0.65 0.73
8.1 0.66 0.72
8.15 0.71 0.69
8.2 0.70 0.70
8.25 0.66 0.74
8.3 0.67 0.73
8.35 0.73 0.70
8.4 0.72 0.71
8.45 0.68 0.69
8.5 0.69 0.70
8.55 0.74 0.73
8.6 0.73 0.72
8.65 0.67 0.69
8.7 0.68 0.70
8.75 0.79 0.75
8.8 0.78 0.74
8.85 0.68 0.70
8.9 0.69 0.71
8.95 0.66 0.68
9.0 0.67 0.69
9.05 0.64 0.74
9.1 0.63 0.73
9.15 0.67 0.78
9.2 0.66 0.77
9.25 0.61 0.73
9.3 0.62 0.72
9.35 0.69 0.69
9.4 0.68 0.70
9.45 0.64 0.72
9.5 0.66 0.71
}\tWonefourthreeT

\definecolor{frame}{gray}{0.15}
\newcommand{\legfont}{\fontsize{20}{24}\selectfont}
\pgfplotsset{
  legend image code/.code={\draw[#1] (0bp,0bp) -- (38bp,0bp); \path (-4bp,0bp) -- (43bp,0bp);},
  P/.style={scale only axis, width=466bp, height=145.5bp, anchor=south west,
    xmin=0, xmax=9.5, clip=true,
    axis line style={line width=1.6bp, frame},
    tick align=outside, ytick pos=left, xtick pos=bottom,
    major tick length=15bp, minor tick length=8bp,
    tick style={frame, line width=1.6bp},
    xtick=\empty,
    tick label style={font=\fontsize{20}{24}\selectfont},
    /pgf/number format/assume math mode=true,
    yticklabel style={/pgf/number format/fixed, /pgf/number format/fixed zerofill,
      /pgf/number format/precision=1, fill=white, inner xsep=6.5bp, inner ysep=3bp},
    every axis plot/.append style={line width=1bp, line join=round},
  },
  L/.style={P, ymin=0.5, ymax=1.057, ytick={0.5,0.6,0.7,0.8,0.9,1.0}},
  R/.style={P, ymin=0.6, ymax=1.0547, ytick={0.6,0.7,0.8,0.9,1.0}},
  B/.style={xtick={0,2,4,6,8}, minor xtick={0,0.2,...,9.4},
    extra x ticks={1,3,5,7,9}, extra x tick labels={},
    extra x tick style={major tick length=12bp},
    xticklabel style={font=\fontsize{24}{28}\selectfont}},
  LG/.style={legend cell align=left,
    legend style={at={(#1)}, anchor=north west, draw=frame, line width=1.2bp,
      font=\legfont, fill=white, inner xsep=3bp, inner ysep=4bp, row sep=3bp}},
}
\tikzset{
  lab/.style={anchor=west, font=\fontsize{26.5}{30}\selectfont, inner sep=0pt},
  ttl/.style={anchor=base west, font=\fontsize{26}{30}\selectfont, inner sep=0pt},
}

\begin{document}
\begin{tikzpicture}[x=1bp,y=1bp]
% ---------------- left column: full-length mutants
\begin{axis}[L, at={(101.7bp,674.2bp)}, LG={0.657,0.970}]
\addplot[red] table[x=t,y=r]{\tWseven};\addlegendentry{6,7-DiBr}
\addplot[blue] table[x=t,y=b]{\tWseven};\addlegendentry{11,12-DiBr}
\node[ttl] at (rel axis cs:0.1457,0.81) {Full-length mutants};
\node[lab] at (rel axis cs:0.043,0.18) {W7};
\end{axis}
\begin{axis}[L, at={(101.7bp,528.7bp)}]
\addplot[red] table[x=t,y=r]{\tWfifteen};
\addplot[blue] table[x=t,y=b]{\tWfifteen};
\node[lab] at (rel axis cs:0.043,0.214) {W15};
\end{axis}
\begin{axis}[L, at={(101.7bp,383.2bp)}]
\addplot[red] table[x=t,y=r]{\tWfiftyseven};
\addplot[blue] table[x=t,y=b]{\tWfiftyseven};
\node[lab] at (rel axis cs:0.043,0.19) {W57};
\end{axis}
\begin{axis}[L, at={(101.7bp,237.7bp)}]
\addplot[red] table[x=t,y=r]{\tWonezerotwo};
\addplot[blue] table[x=t,y=b]{\tWonezerotwo};
\node[lab] at (rel axis cs:0.043,0.19) {W102};
\end{axis}
\begin{axis}[L, B, at={(101.7bp,92.2bp)}]
\addplot[red] table[x=t,y=r]{\tWonefourthree};
\addplot[blue] table[x=t,y=b]{\tWonefourthree};
\node[lab] at (rel axis cs:0.043,0.153) {W143};
\end{axis}
% ---------------- right column: truncated mutants
\begin{axis}[R, at={(685bp,674.2bp)}, LG={0.6416,0.954}]
\addplot[red] table[x=t,y=r]{\tWsevenT};\addlegendentry{6,7-DiBr}
\addplot[blue] table[x=t,y=b]{\tWsevenT};\addlegendentry{11,12-DiBr}
\node[ttl] at (rel axis cs:0.122,0.799) {Truncated mutants};
\node[lab] at (rel axis cs:0.049,0.22) {W7t};
\end{axis}
\begin{axis}[R, at={(685bp,528.7bp)}]
\addplot[red, dash pattern=on 5bp off 3bp] table[x=t,y=r]{\tWfifteenT};
\addplot[blue] table[x=t,y=b]{\tWfifteenT};
\node[lab] at (rel axis cs:0.049,0.30) {W15t};
\end{axis}
\begin{axis}[R, at={(685bp,383.2bp)}]
\addplot[red] table[x=t,y=r]{\tWfiftysevenT};
\addplot[blue] table[x=t,y=b]{\tWfiftysevenT};
\node[lab] at (rel axis cs:0.049,0.27) {W57t};
\end{axis}
\begin{axis}[R, at={(685bp,237.7bp)}]
\addplot[red] table[x=t,y=r]{\tWonezerotwoT};
\addplot[blue] table[x=t,y=b]{\tWonezerotwoT};
\node[lab] at (rel axis cs:0.049,0.23) {W102t};
\end{axis}
\begin{axis}[R, B, at={(685bp,92.2bp)}]
\addplot[red] table[x=t,y=r]{\tWonefourthreeT};
\addplot[blue] table[x=t,y=b]{\tWonefourthreeT};
\node[lab] at (rel axis cs:0.049,0.277) {W143t};
\end{axis}
% ---------------- axis titles
\node[rotate=90, anchor=base, font=\fontsize{28}{32}\selectfont, inner sep=0pt] at (32.5,461) {normalized intensity};
\node[rotate=90, anchor=base, font=\fontsize{28}{32}\selectfont, inner sep=0pt] at (615.7,436) {normalized intensity};
\node[anchor=base, font=\fontsize{27}{32}\selectfont, inner sep=0pt] at (334.7,8) {time (ns)};
\node[anchor=base, font=\fontsize{27}{32}\selectfont, inner sep=0pt] at (915,8) {time (ns)};
\pgfresetboundingbox
\useasboundingbox (0,0) rectangle (1141,833);
\end{tikzpicture}
\end{document}
